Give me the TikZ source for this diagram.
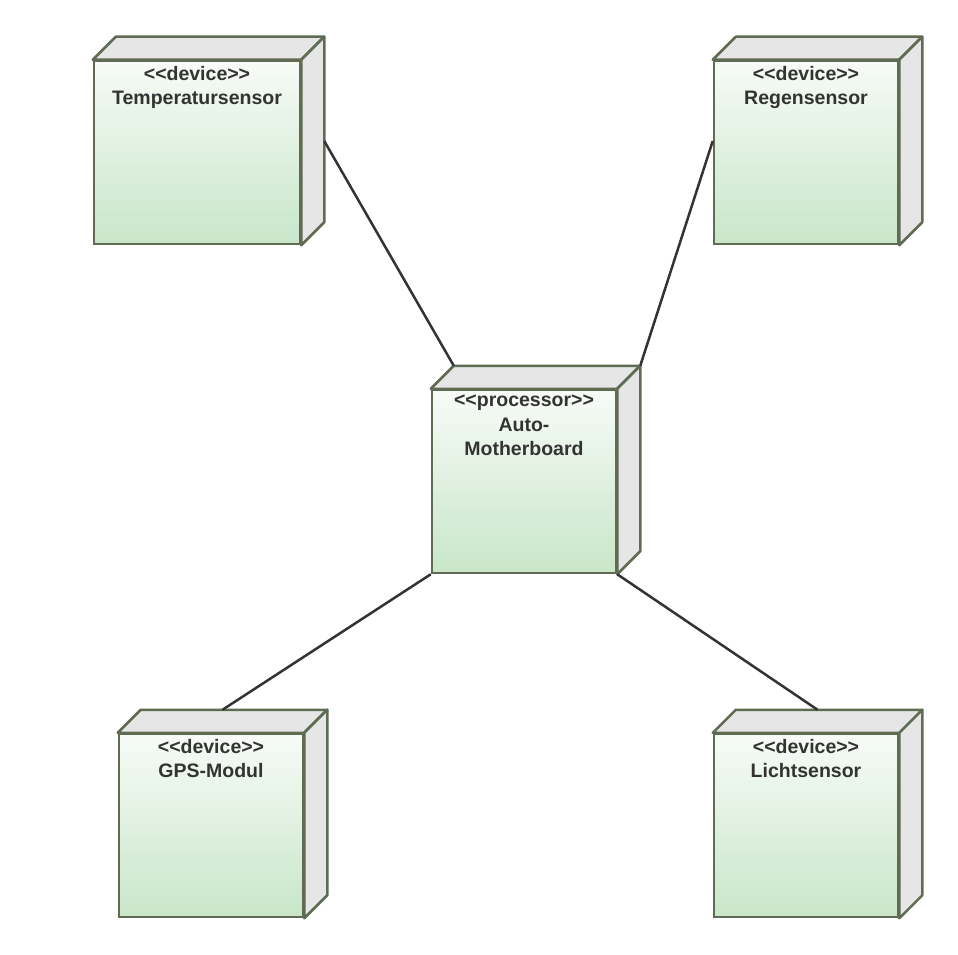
\documentclass[tikz,border=0pt]{standalone}
\usepackage{fontspec}
\setmainfont{Liberation Sans}[Ligatures=TeXOff]
\usetikzlibrary{calc}

\definecolor{boxline}{RGB}{95,107,82}
\definecolor{boxtop}{RGB}{247,251,247}
\definecolor{boxbottom}{RGB}{200,230,201}
\definecolor{sidegray}{RGB}{230,230,230}
\definecolor{textgray}{RGB}{51,51,51}

\tikzset{
  devbox/.style={draw=boxline, line width=2.5pt, top color=boxtop, bottom color=boxbottom,
    minimum width=184pt, minimum height=183pt, inner sep=0pt},
  sideface/.style={draw=boxline, line width=2.5pt, fill=sidegray, line join=round},
  boxtext/.style={anchor=north, inner sep=3pt, yshift=-3pt, align=center, text=textgray,
    font=\fontsize{19.5}{24.5}\selectfont\bfseries},
  link/.style={draw=textgray, line width=2.5pt}
}

% depth faces behind a front face, plus the points the links attach to
\newcommand{\boxdepth}[1]{%
  \coordinate (#1-bnw) at ([shift={(23,-23)}]#1.north west);
  \coordinate (#1-bne) at ([shift={(23,-23)}]#1.north east);
  \coordinate (#1-bse) at ([shift={(23,-23)}]#1.south east);
  \filldraw[sideface] (#1.north west) -- (#1-bnw) -- (#1-bne) -- (#1.north east) -- cycle;
  \filldraw[sideface] (#1.north east) -- (#1-bne) -- (#1-bse) -- (#1.south east) -- cycle;
  \coordinate (#1-e) at ($(#1-bne)!0.5!(#1-bne |- #1.south)$);
  \coordinate (#1-w) at ($(#1-bnw -| #1.west)!0.5!(#1.south west)$);
  \coordinate (#1-n) at ($(#1.north west |- #1-bnw)!0.5!(#1-bne)$);
}

\begin{document}
\begin{tikzpicture}[x=1pt, y=-1pt]
  \useasboundingbox (0,0) rectangle (958,955);

  \node[devbox, minimum width=206pt, label={[boxtext]north:{<<device>>\\Temperatursensor}}] (temp) at (197,152.5) {};
  \boxdepth{temp}
  \node[devbox, label={[boxtext]north:{<<device>>\\Regensensor}}] (regen) at (806,152.5) {};
  \boxdepth{regen}
  \node[devbox, label={[boxtext]north:{<<processor>>\\Auto-\\Motherboard}}] (auto) at (524,481.5) {};
  \boxdepth{auto}
  \node[devbox, label={[boxtext]north:{<<device>>\\GPS-Modul}}] (gps) at (211,825.5) {};
  \boxdepth{gps}
  \node[devbox, label={[boxtext]north:{<<device>>\\Lichtsensor}}] (licht) at (806,825.5) {};
  \boxdepth{licht}

  \draw[link] (temp-e) -- (auto-bnw);
  \draw[link] (regen-w) -- (auto-bne);
  \draw[link] (auto.south west) -- (gps-n);
  \draw[link] (auto.south east) -- (licht-n);
\end{tikzpicture}
\end{document}
